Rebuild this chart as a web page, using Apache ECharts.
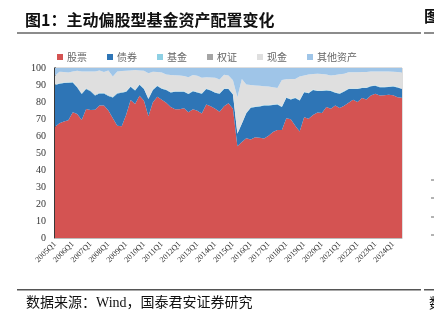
<!DOCTYPE html>
<html>
<head>
<meta charset="utf-8">
<script src="https://cdn.jsdelivr.net/npm/echarts@6/dist/echarts.min.js"></script>
<style>
  html, body { margin: 0; padding: 0; background: #fff; }
  #chart { width: 434px; height: 324px; }
</style>
</head>
<body>
<div id="chart"></div>
<script>
// Quarterly periods, 2005Q1 .. 2024Q3
const quarters = [];
for (let y = 2005; y <= 2024; y++) {
  for (let q = 1; q <= 4; q++) {
    if (y === 2024 && q === 4) break;
    quarters.push(y + 'Q' + q);
  }
}

// Asset allocation of active equity funds, % of total assets
const stock = [65.5,67.5,68.5,69.2,74.0,73.0,69.4,75.9,75.3,75.5,78.0,78.0,75.0,70.5,66.0,65.7,
  72.5,81.2,78.8,83.7,80.8,71.6,79.8,83.1,81.3,79.5,77.0,75.7,75.7,76.3,74.0,75.8,
  74.8,73.2,78.6,77.5,76.0,74.2,77.5,79.3,76.0,53.9,56.4,58.7,57.9,59.3,58.9,58.5,
  60.2,62.3,63.6,63.6,70.5,69.8,66.0,62.7,71.1,70.1,72.4,73.8,73.6,77.0,76.0,77.9,
  76.4,77.8,79.5,81.3,80.0,82.3,81.5,83.8,84.8,83.8,84.0,84.2,84.0,82.8,82.5];
const bond = [24.5,23.3,22.7,22.1,17.4,15.5,15.3,11.7,11.0,8.3,7.0,7.0,8.5,12.1,19.0,19.7,
  13.5,7.8,7.9,6.5,6.8,10.2,7.2,6.3,6.5,7.5,8.6,10.3,10.3,9.7,10.7,10.5,
  10.8,11.6,9.1,9.3,9.5,10.6,10.2,8.4,8.4,7.4,10.8,14.7,18.7,17.7,18.4,19.4,
  17.8,16.0,14.9,13.4,12.0,11.7,16.3,18.2,14.7,15.1,14.6,12.7,12.9,9.8,10.4,7.6,
  8.4,8.4,8.1,6.4,7.7,6.0,6.8,5.5,4.7,4.9,4.7,4.6,5.1,5.7,5.2];
const fund = [0.3,0.3,0.3,0.3,0.3,0.3,0.3,0.3,0.3,0.3,0.3,0.3,0.3,0.3,0.3,0.3,
  0.3,0.3,0.3,0.3,0.3,0.3,0.3,0.3,0.3,0.3,0.3,0.3,0.3,0.3,0.3,0.3,
  0.3,0.3,0.3,0.3,0.3,0.3,0.3,0.3,0.3,0.3,0.3,0.3,0.3,0.3,0.3,0.3,
  0.3,0.3,0.3,0.3,0.3,0.3,0.3,0.3,0.3,0.3,0.3,0.3,0.3,0.3,0.3,0.3,
  0.3,0.3,0.3,0.3,0.3,0.3,0.3,0.3,0.3,0.3,0.3,0.3,0.3,0.3,0.3];
const warrant = [0,0,0,0,0,0.2,0.2,0.2,0.2,0.2,0.2,0.2,0.2,0.2,0.2,0.2,
  0,0,0,0,0,0,0,0,0,0,0,0,0,0,0,0,
  0,0,0,0,0,0,0,0,0,0,0,0,0,0,0,0,
  0,0,0,0,0,0,0,0,0,0,0,0,0,0,0,0,
  0,0,0,0,0,0,0,0,0,0,0,0,0,0,0];
const cash = [5.2,6.7,6.1,5.7,6.3,9.4,12.8,9.9,11.2,13.7,13.0,12.1,14.6,11.9,12.5,12.3,
  12.1,9.3,11.8,8.1,10.5,14.8,10.5,8.0,9.3,8.9,10.0,9.4,9.3,9.0,9.5,9.3,
  9.6,9.1,6.6,7.3,8.4,8.1,8.0,7.6,8.1,21.2,26.1,16.6,13.1,12.4,11.9,11.1,
  10.8,10.1,9.5,15.7,10.6,11.8,11.0,13.8,9.5,10.7,9.1,9.8,9.7,9.1,8.9,10.1,
  11.2,10.1,9.6,9.5,9.5,9.0,9.1,8.3,8.1,8.9,8.9,8.8,8.4,8.8,9.3];
const other = [4.5,2.2,2.4,2.7,2.0,1.6,2.0,2.0,2.0,2.0,1.5,2.4,1.4,5.0,2.0,1.8,
  1.6,1.4,1.2,1.4,1.6,3.1,2.2,2.3,2.6,3.8,4.1,4.3,4.4,4.7,5.5,4.1,
  4.5,5.8,5.4,5.6,5.8,6.8,4.0,4.4,7.2,17.2,6.4,9.7,10.0,10.3,10.5,10.7,
  10.9,11.3,11.7,7.0,6.6,6.4,6.4,5.0,4.4,3.8,3.6,3.4,3.5,3.8,4.4,4.1,
  3.7,3.4,2.5,2.5,2.5,2.4,2.3,2.1,2.1,2.1,2.1,2.1,2.2,2.4,2.7];

const seriesNames = ['股票', '债券', '基金', '权证', '现金', '其他资产'];
const seriesData = [stock, bond, fund, warrant, cash, other];
const colors = ['#D45352', '#2E75B6', '#8ED0E4', '#A5A5A5', '#DFDFDF', '#9FC5E8'];

const serif = '"Liberation Serif", "Noto Sans CJK SC", serif';
const cjk = '"Noto Sans CJK SC", sans-serif';

const chart = echarts.init(document.getElementById('chart'), null, { renderer: 'canvas' });

chart.setOption({
  animation: false,
  backgroundColor: '#fff',
  color: colors,
  title: {
    text: '图1：主动偏股型基金资产配置变化',
    left: 20, top: 7,
    textStyle: { fontFamily: cjk, fontSize: 16, fontWeight: 'bold', color: '#111' }
  },
  legend: {
    left: 52, top: 47,
    icon: 'rect', itemWidth: 6, itemHeight: 6, itemGap: 20,
    textStyle: { fontFamily: cjk, fontSize: 10, color: '#666', padding: [0, 0, 0, -1] },
    data: seriesNames
  },
  grid: {
    left: 55, right: 32, top: 68, bottom: 86,
    show: true, borderColor: '#BDBDBD', borderWidth: 1, backgroundColor: 'transparent'
  },
  xAxis: {
    type: 'category',
    data: quarters,
    boundaryGap: false,
    axisLine: { show: true, lineStyle: { color: '#BDBDBD', width: 1 } },
    axisTick: { show: false },
    axisLabel: {
      interval: 3, rotate: 45, margin: 5,
      fontFamily: serif, fontSize: 8, color: '#333'
    },
    splitLine: { show: false }
  },
  yAxis: {
    type: 'value',
    min: 0, max: 100, interval: 10,
    axisLine: { show: true, lineStyle: { color: '#000', width: 1.5 } },
    axisTick: { show: false },
    axisLabel: { fontFamily: serif, fontSize: 10, color: '#333', margin: 9 },
    splitLine: { show: false }
  },
  series: seriesNames.map((name, i) => ({
    name: name,
    type: 'line',
    stack: 'total',
    data: seriesData[i],
    showSymbol: false,
    symbol: 'none',
    lineStyle: { width: 0 },
    areaStyle: { color: colors[i], opacity: 1 },
    itemStyle: { color: colors[i] },
    z: 2
  })),
  graphic: [
    // rule under the heading
    { type: 'rect', shape: { x: 17, y: 32, width: 404, height: 2 }, style: { fill: '#8C8C8C' } },
    { type: 'rect', shape: { x: 424, y: 32, width: 10, height: 2 }, style: { fill: '#8C8C8C' } },
    // neighbouring figure heading, clipped at the edge
    { type: 'text', left: 424, top: 8, style: { text: '图', font: 'bold 16px "Noto Sans CJK SC"', fill: '#111' } },
    // rule above the source note
    { type: 'rect', shape: { x: 17, y: 289, width: 404, height: 1.5 }, style: { fill: '#555' } },
    { type: 'rect', shape: { x: 424, y: 289, width: 10, height: 1.5 }, style: { fill: '#555' } },
    { type: 'text', left: 26, top: 296, style: { text: '数据来源：Wind，国泰君安证券研究', font: '14px "Liberation Serif", "Noto Sans CJK SC"', fill: '#111' } },
    { type: 'text', left: 429, top: 296, style: { text: '数', font: '14px "Noto Sans CJK SC"', fill: '#111' } },
    // tick marks of the neighbouring chart
    { type: 'line', shape: { x1: 431, y1: 180, x2: 434, y2: 180 }, style: { stroke: '#666', lineWidth: 1 } },
    { type: 'line', shape: { x1: 431, y1: 198, x2: 434, y2: 198 }, style: { stroke: '#666', lineWidth: 1 } },
    { type: 'line', shape: { x1: 431, y1: 217, x2: 434, y2: 217 }, style: { stroke: '#666', lineWidth: 1 } },
    { type: 'line', shape: { x1: 431, y1: 235, x2: 434, y2: 235 }, style: { stroke: '#666', lineWidth: 1 } }
  ]
});
</script>
</body>
</html>
